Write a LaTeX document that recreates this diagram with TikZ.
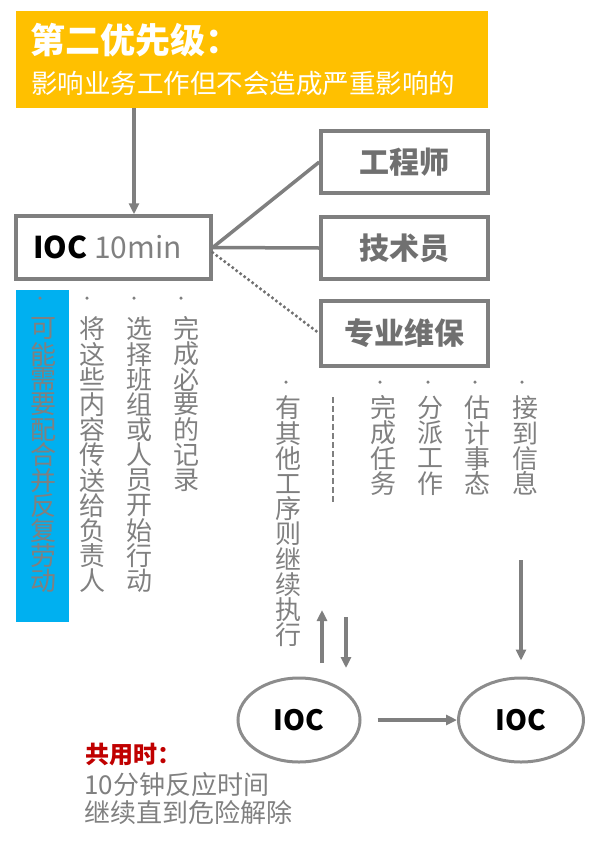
\documentclass[tikz,border=0pt]{standalone}
\usepackage{fontspec}
\setmainfont{Noto Sans CJK SC}
\usetikzlibrary{arrows.meta,calc,shapes.geometric}
\definecolor{orangeY}{RGB}{255,192,0}
\definecolor{lgray}{RGB}{127,127,127}
\definecolor{tgray}{RGB}{128,128,128}
\definecolor{bgray}{RGB}{112,112,112}
\definecolor{egray}{RGB}{140,140,140}
\definecolor{skyblue}{RGB}{0,176,240}
\definecolor{darkred}{RGB}{192,0,0}
\newcommand{\fsz}[1]{\fontsize{#1}{#1}\selectfont}
\newcommand{\vcol}[4]{%
  \foreach \c [count=\i] in {#4} {\node[vchar] (#3-\i) at (#1, #2+25.2*\i-25.2) {\c};}}
\begin{document}
\begin{tikzpicture}[x=1pt,y=-1pt,
  box/.style={draw=lgray, line width=3.5pt, minimum width=167pt, inner sep=0, font=\fsz{30}\bfseries, text=bgray},
  conn/.style={draw=lgray, line width=3.5pt},
  arr/.style={conn, -{Triangle[length=11pt,width=10pt]}},
  vchar/.style={font=\fsz{26}, text=tgray, inner sep=0},
  bullet/.style={circle, fill=tgray, inner sep=0, minimum size=3.5pt},
  oval/.style={draw=egray, ellipse, line width=3pt, inner sep=0, font=\fsz{28}\bfseries, text=black}]
\useasboundingbox (0,0) rectangle (606,841);
% header
\node[fill=orangeY, minimum width=472pt, minimum height=97pt, inner sep=0] (hdr) at (252,59.5) {};
\node[anchor=west, text=white, font=\fsz{35}\bfseries, inner sep=0] (title) at (30,40) {第二优先级：};
\node[anchor=west, text=white, font=\fsz{26.5}, inner sep=0] (sub) at (31,83) {影响业务工作但不会造成严重影响的};
% IOC box
\node[draw=lgray, line width=3.5pt, minimum width=195pt, minimum height=63pt, inner sep=0] (ioc) at (113.5,247.5) {};
\node[anchor=west, inner sep=0, font=\fsz{30}] (ioct) at (33,247) {\textbf{IOC} \textcolor{tgray}{10min}};
% right boxes
\node[box, minimum height=62pt] (eng) at (404.5,162) {工程师};
\node[box, minimum height=62pt] (tech) at (404.5,248) {技术员};
\node[box, minimum height=65pt] (maint) at (404.5,333.5) {专业维保};
% arrow header -> IOC
\coordinate (hx) at (134,0);
\draw[arr] (hdr.south -| hx) -- (ioc.north -| hx);
% connectors
\draw[conn] (ioc.east) -- (eng.west);
\draw[conn] (ioc.east) -- (tech.west);
\draw[draw=bgray, line width=3.5pt, line cap=round, dash pattern=on 0pt off 5pt] ([yshift=-5pt]ioc.east) -- (maint.west);
% blue column
\node[fill=skyblue, minimum width=53pt, minimum height=332pt, inner sep=0] (blue) at (42.5,456) {};
% bullets
\node[bullet] (b1) at (40,298) {};
\node[bullet] (b2) at (87,298) {};
\node[bullet] (b3) at (134,298) {};
\node[bullet] (b4) at (181,298) {};
\node[bullet] (b5) at (286,382) {};
\node[bullet] (b6) at (380,382) {};
\node[bullet] (b7) at (428,382) {};
\node[bullet] (b8) at (475,382) {};
\node[bullet] (b9) at (522,382) {};
% vertical texts
\vcol{43}{329}{ca}{可,能,需,要,配,合,并,反,复,劳,动}
\vcol{92}{329}{cb}{将,这,些,内,容,传,送,给,负,责,人}
\vcol{139}{329}{cc}{选,择,班,组,或,人,员,开,始,行,动}
\vcol{186}{329}{cd}{完,成,必,要,的,记,录}
\vcol{288}{408}{ce}{有,其,他,工,序,则,继,续,执,行}
\vcol{383}{408}{cf}{完,成,任,务}
\vcol{430}{408}{cg}{分,派,工,作}
\vcol{477}{408}{ch}{估,计,事,态}
\vcol{525}{408}{ci}{接,到,信,息}
% dashed separator
\coordinate (ds1) at (333,397);
\coordinate (ds2) at (333,503);
\draw[draw=lgray, line width=2pt, dash pattern=on 6pt off 3pt] (ds1) -- (ds2);
% ellipses
\node[oval, minimum width=122pt, minimum height=84pt] (e1) at (299,720) {IOC};
\node[oval, minimum width=125pt, minimum height=84pt] (e2) at (521,720) {IOC};
% arrows near ellipses
\coordinate (u1a) at (322,663);
\coordinate (u1b) at (322,610);
\coordinate (d1a) at (346,617);
\coordinate (d1b) at (346,668);
\coordinate (d2a) at (521,560);
\draw[arr] (u1a) -- (u1b);
\draw[arr] (d1a) -- (d1b);
\draw[arr] (d2a) -- ([yshift=16pt]e2.north);
\draw[arr] ([xshift=16pt]e1.east) -- (e2.west);
% bottom note
\node[anchor=west, inner sep=0, text=darkred, font=\fsz{24}\bfseries] (sh) at (85,755) {共用时：};
\node[anchor=west, inner sep=0, text=tgray, font=\fsz{26}] (l1) at (84,785) {10分钟反应时间};
\node[anchor=west, inner sep=0, text=tgray, font=\fsz{26}] (l2) at (84,813) {继续直到危险解除};
\end{tikzpicture}
\end{document}
